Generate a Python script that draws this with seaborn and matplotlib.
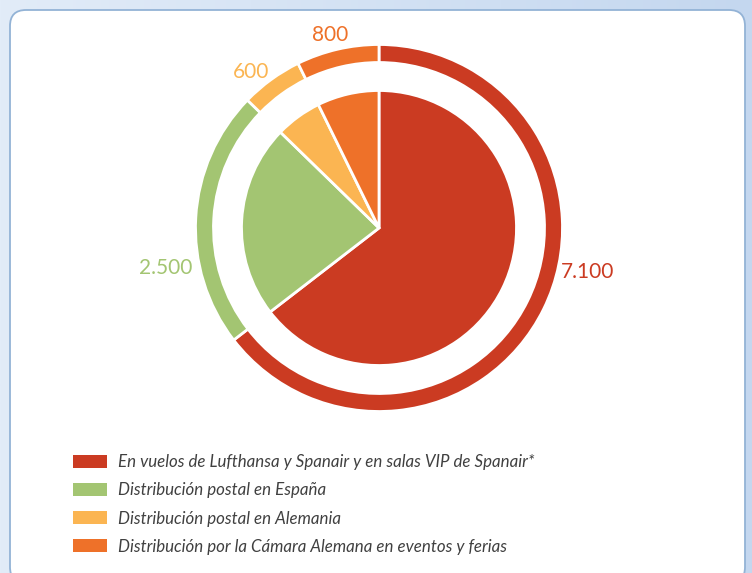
import matplotlib
matplotlib.use('Agg')
import matplotlib.pyplot as plt
import seaborn as sns
import numpy as np
from matplotlib.patches import FancyBboxPatch, Patch

sns.set_theme(style='white')
plt.rcParams['font.family'] = ['Lato', 'DejaVu Sans']

# datos del gráfico
categorias = ['En vuelos de Lufthansa y Spanair y en salas VIP de Spanair*',
              'Distribución postal en España',
              'Distribución postal en Alemania',
              'Distribución por la Cámara Alemana en eventos y ferias']
valores = [7100, 2500, 600, 800]
etiquetas = ['7.100', '2.500', '600', '800']
colores = ['#cb3b22', '#a3c572', '#fbb552', '#ee7129']

W, H = 752, 573
fig = plt.figure(figsize=(W / 100, H / 100), dpi=100)

# fondo degradado azul claro
bg = fig.add_axes([0, 0, 1, 1], zorder=-2)
grad = np.linspace(0, 1, 256)[None, :]
bg.imshow(grad, aspect='auto', extent=[0, W, 0, H],
          cmap=matplotlib.colors.LinearSegmentedColormap.from_list('bg', ['#e2ecf8', '#c4d7ef']))
bg.set_xlim(0, W)
bg.set_ylim(0, H)
bg.axis('off')
panel = FancyBboxPatch((10, -10), 735, H - 5 + 10 - 5,
                       boxstyle='round,pad=0,rounding_size=16',
                       facecolor='white', edgecolor='#93b3d6', linewidth=1.3)
bg.add_patch(panel)

# área del gráfico: 1 unidad = 1 píxel, centro en (379, 228)
cx, cy = 379, 228
half = 200
ax = fig.add_axes([(cx - half) / W, (H - cy - half) / H, 2 * half / W, 2 * half / H])

# anillo exterior
ax.pie(valores, colors=colores, startangle=90, counterclock=False, radius=183.5,
       wedgeprops=dict(width=18, edgecolor='white', linewidth=2))
# tarta interior
ax.pie(valores, colors=colores, startangle=90, counterclock=False, radius=137.5,
       wedgeprops=dict(edgecolor='white', linewidth=2))

ax.set_xlim(-half, half)
ax.set_ylim(-half, half)
ax.set_aspect('equal')
ax.axis('off')

# etiquetas de valores
pos_etiquetas = [(209, -44), (-213, -40), (-128, 156), (-49, 193)]
for (dx, dy), txt, col in zip(pos_etiquetas, etiquetas, colores):
    ax.text(dx, dy, txt, color=col, fontsize=15,
            ha='center', va='center', clip_on=False)

# leyenda
handles = [Patch(facecolor=c, edgecolor='none') for c in colores]
fig.legend(handles, categorias, loc='upper left', bbox_to_anchor=(58 / W, 1 - 439 / H),
           frameon=False, handlelength=2.0, handleheight=0.8,
           handletextpad=0.62, labelspacing=0.72,
           prop=dict(family=['Lato', 'DejaVu Sans'], style='italic', size=12.2),
           labelcolor='#404040')

fig.savefig('out.png', dpi=100)
